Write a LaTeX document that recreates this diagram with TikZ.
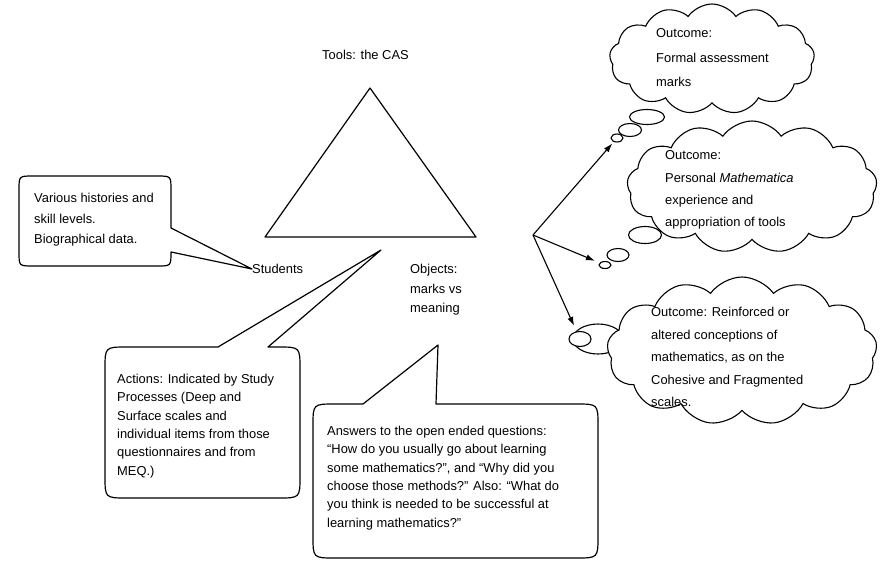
\documentclass[tikz,border=0pt]{standalone}
\usepackage{fontspec}
\setmainfont{Liberation Sans}
\usetikzlibrary{arrows.meta,shapes.geometric,shapes.symbols}
\newcommand{\fs}[1]{\fontsize{12.9}{#1}\selectfont}
\tikzset{
	txt/.style={inner sep=0pt,align=left,anchor=west},
	bub/.style={draw,ellipse,fill=white,inner sep=0pt,line width=1.1pt},
	puff/.style={draw,cloud,cloud puffs=13,cloud puff arc=110,cloud ignores aspect,fill=white,inner sep=0pt,line width=1.1pt},
	box/.style={line width=1.2pt,line join=round,fill=white},
	arr/.style={-{Latex[length=9pt,width=6pt]},line width=1.1pt}
}

\begin{document}
\begin{tikzpicture}[x=1pt,y=-1pt]
	\useasboundingbox (0,0) rectangle (881,563);
	\node[txt,font=\fs{15}] (tools) at (322,55) {Tools: the CAS};
	\coordinate (top) at (370,88);
	\coordinate (left) at (265,237);
	\coordinate (right) at (476,237);
	\draw [box,fill=none] (top)--(left)--(right)--cycle;
	\node[txt,font=\fs{15}] (students) at (252,269) {Students};
	\node[txt,font=\fs{19.5}] (objects) at (410,290) {Objects:\\marks vs\\meaning};

	\draw [box] (33,176)--(157,176) .. controls (171,176) .. (171,190)--(171,228)--(students.west)--(171,252) .. controls (171,266) .. (157,266)--(33,266) .. controls (19,266) .. (19,252)--(19,190) .. controls (19,176) .. (33,176)--cycle;
	\node[txt,font=\fs{20.5}] (history) at (34,220) {Various histories and\\skill levels.\\Biographical data.};

	\coordinate (acttip) at (381,250);
	\draw [box] (127,347)--(218,347)--(acttip)--(268,347)--(278,347) .. controls (300,347) .. (300,369)--(300,476) .. controls (300,498) .. (278,498)--(127,498) .. controls (105,498) .. (105,476)--(105,369) .. controls (105,347) .. (127,347)--cycle;
	\node[txt,font=\fs{18.3}] (actions) at (117,426) {Actions: Indicated by Study\\Processes (Deep and\\Surface scales and\\individual items from those\\questionnaires and from\\MEQ.)};

	\coordinate (anstip) at (438,345);
	\draw [box] (335,404)--(363,404)--(anstip)--(436,404)--(576,404) .. controls (598,404) .. (598,426)--(598,536) .. controls (598,558) .. (576,558)--(335,558) .. controls (313,558) .. (313,536)--(313,426) .. controls (313,404) .. (335,404)--cycle;
	\node[txt,font=\fs{18.3}] (answers) at (327,478) {Answers to the open ended questions:\\``How do you usually go about learning\\some mathematics?'', and ``Why did you\\choose those methods?'' Also: ``What do\\you think is needed to be successful at\\learning mathematics?''};

	\node[bub,minimum width=35pt,minimum height=15pt] (bA1) at (647,117) {};
	\node[bub,minimum width=23pt,minimum height=13pt] (bA2) at (630,130) {};
	\node[bub,minimum width=12pt,minimum height=8pt] (bA3) at (617,138) {};
	\node[bub,minimum width=33pt,minimum height=17pt] (bB1) at (645,235) {};
	\node[bub,minimum width=22pt,minimum height=13pt] (bB2) at (618,255) {};
	\node[bub,minimum width=12pt,minimum height=7pt] (bB3) at (605,265) {};
	\node[bub,minimum width=50pt,minimum height=30pt] (bC1) at (598,339) {};
	\node[bub,minimum width=22pt,minimum height=15pt] (bC2) at (580,339) {};

	\node[puff,minimum width=205pt,minimum height=110pt] (outA) at (712,59) {};
	\node[puff,minimum width=250pt,minimum height=132pt] (outB) at (752,187) {};
	\node[puff,minimum width=270pt,minimum height=148pt] (outC) at (742,351) {};
	\node[txt,font=\fs{24.5}] (outAtext) at (656,58) {Outcome:\\Formal assessment\\marks};
	\node[txt,font=\fs{22.3}] (outBtext) at (665,190) {Outcome:\\Personal \textit{Mathematica}\\experience and\\appropriation of tools};
	\node[txt,font=\fs{22.5}] (outCtext) at (651,357) {Outcome: Reinforced or\\altered conceptions of\\mathematics, as on the\\Cohesive and Fragmented\\scales.};

	\coordinate (hub) at (533,235);
	\draw [arr,shorten >=2pt] (hub)--(bA3);
	\draw [arr,shorten >=5pt] (hub)--(bB3);
	\draw [arr,shorten >=6pt] (hub)--(bC2);
\end{tikzpicture}
\end{document}
